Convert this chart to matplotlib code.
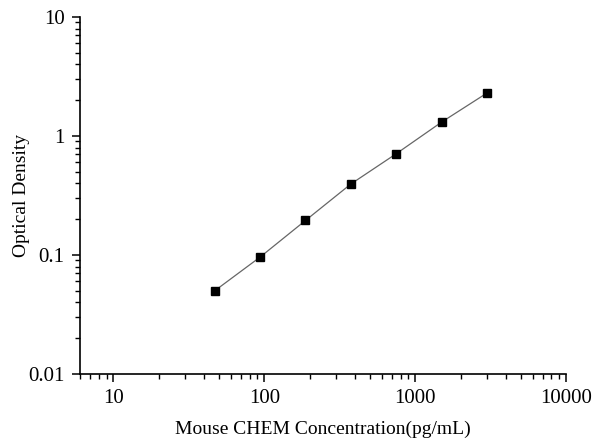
import numpy as np
import matplotlib.pyplot as plt
from matplotlib.ticker import LogLocator, FixedLocator, FixedFormatter, NullFormatter

plt.rcParams['font.family'] = ['Liberation Serif', 'DejaVu Serif']

conc = [46.875, 93.75, 187.5, 375, 750, 1500, 3000]
od = [0.050, 0.096, 0.195, 0.395, 0.71, 1.31, 2.30]

x_ticks = [10, 100, 1000, 10000]
x_labels = ['10', '100', '1000', '10000']
y_ticks = [0.01, 0.1, 1, 10]
y_labels = ['0.01', '0.1', '1', '10']

fig = plt.figure(figsize=(6, 4.46), dpi=100)
ax = fig.add_axes([0.1333, 0.1614, 0.81, 0.8005])

ax.plot(conc, od, color='#666666', lw=0.9, marker='s', markersize=5.8,
        markerfacecolor='black', markeredgecolor='black', zorder=3)

ax.set_xscale('log')
ax.set_yscale('log')
ax.set_xlim(6, 10000)
ax.set_ylim(0.01, 10)

ax.xaxis.set_major_locator(FixedLocator(x_ticks))
ax.xaxis.set_major_formatter(FixedFormatter(x_labels))
ax.yaxis.set_major_locator(FixedLocator(y_ticks))
ax.yaxis.set_major_formatter(FixedFormatter(y_labels))
ax.xaxis.set_minor_locator(LogLocator(base=10, subs=np.arange(2, 10), numticks=20))
ax.yaxis.set_minor_locator(LogLocator(base=10, subs=np.arange(2, 10), numticks=20))
ax.xaxis.set_minor_formatter(NullFormatter())
ax.yaxis.set_minor_formatter(NullFormatter())

for side in ['top', 'right']:
    ax.spines[side].set_visible(False)
for side in ['left', 'bottom']:
    ax.spines[side].set_linewidth(1.2)

ax.tick_params(which='major', direction='out', length=6, width=1.1, labelsize=15, pad=5)
ax.tick_params(which='minor', direction='out', length=3.5, width=1.0)

ax.set_xlabel('Mouse CHEM Concentration(pg/mL)', fontsize=14, labelpad=9)
ax.set_ylabel('Optical Density', fontsize=14)
ax.yaxis.set_label_coords(-0.103, 0.5)

fig.savefig('out.png', dpi=100)
